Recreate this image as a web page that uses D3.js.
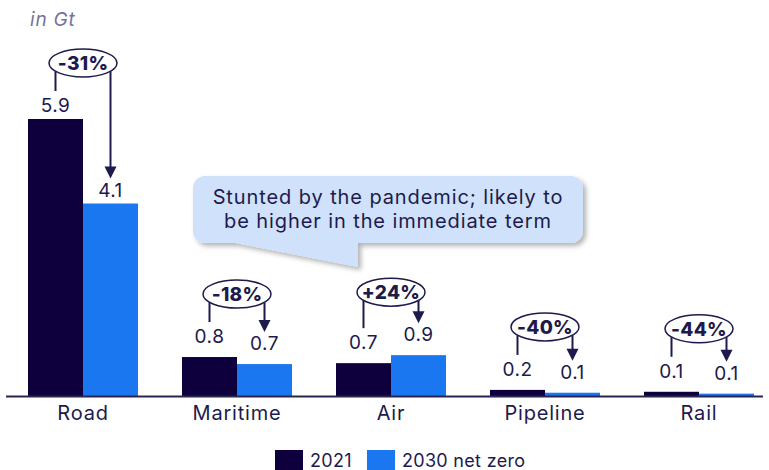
<!DOCTYPE html>
<html>
<head>
<meta charset="utf-8">
<script src="https://cdn.jsdelivr.net/npm/d3@7"></script>
<style>
    body { margin: 0; background: #ffffff; }
    svg { display: block; font-family: 'Inter', 'DejaVu Sans', sans-serif; }
</style>
</head>
<body>
<div id="chart"></div>
<script>
// Chart data
const categories = ['Road', 'Maritime', 'Air', 'Pipeline', 'Rail'];
const seriesNames = ['2021', '2030 net zero'];
const values2021 = [5.9, 0.83, 0.70, 0.13, 0.09];
const values2030 = [4.1, 0.68, 0.87, 0.07, 0.05];
const labels2021 = ['5.9', '0.8', '0.7', '0.2', '0.1'];
const labels2030 = ['4.1', '0.7', '0.9', '0.1', '0.1'];
const changeLabels = ['-31%', '-18%', '+24%', '-40%', '-44%'];
const calloutLines = ['Stunted by the pandemic; likely to', 'be higher in the immediate term'];

const colors = { '2021': '#0e003c', '2030 net zero': '#1a77f0' };
const textColor = '#1d1a4c';
const width = 769;
const height = 470;

const rows = categories.map((name, i) => ({
    name,
    values: [
        { key: seriesNames[0], value: values2021[i], label: labels2021[i] },
        { key: seriesNames[1], value: values2030[i], label: labels2030[i] }
    ],
    change: changeLabels[i]
}));

const svg = d3.select('#chart').append('svg')
    .attr('width', width)
    .attr('height', height);

// Drop shadow for the callout
const defs = svg.append('defs');
const filter = defs.append('filter')
    .attr('id', 'shadow')
    .attr('x', '-10%').attr('y', '-20%')
    .attr('width', '130%').attr('height', '160%');
filter.append('feDropShadow')
    .attr('dx', 3).attr('dy', 3)
    .attr('stdDeviation', 2.5)
    .attr('flood-color', '#000')
    .attr('flood-opacity', 0.3);

// Scales
const x0 = d3.scaleBand()
    .domain(categories)
    .range([6, 776])
    .paddingInner(2 / 7)
    .paddingOuter(1 / 7);

const x1 = d3.scaleBand()
    .domain(seriesNames)
    .range([0, x0.bandwidth()]);

const y = d3.scaleLinear()
    .domain([0, 5.9])
    .range([396, 119]);

// Unit label
svg.append('text')
    .attr('x', 30)
    .attr('y', 26)
    .attr('fill', '#76729a')
    .attr('font-size', '19px')
    .attr('font-style', 'italic')
    .attr('letter-spacing', '0.8px')
    .text('in Gt');

// Bars
const groups = svg.selectAll('.group')
    .data(rows)
    .enter()
    .append('g')
    .attr('class', 'group')
    .attr('transform', d => `translate(${x0(d.name)},0)`);

groups.selectAll('rect')
    .data(d => d.values)
    .enter()
    .append('rect')
    .attr('x', d => x1(d.key))
    .attr('y', d => y(d.value))
    .attr('width', x1.bandwidth())
    .attr('height', d => y(0) - y(d.value))
    .attr('fill', d => colors[d.key]);

// Value labels, sitting a bit higher above the small bars
const labelBase = d => y(d.value) - (d.value > 2 ? 7 : 14);

groups.selectAll('.value')
    .data(d => d.values)
    .enter()
    .append('text')
    .attr('class', 'value')
    .attr('x', d => x1(d.key) + x1.bandwidth() / 2)
    .attr('y', labelBase)
    .attr('text-anchor', 'middle')
    .attr('fill', textColor)
    .attr('font-size', '19px')
    .attr('letter-spacing', '0.5px')
    .text(d => d.label);

// Change annotations: oval with percentage, bracket and arrow
const rx = 34;
const ry = 14;
const capHeight = 14;

groups.each(function (d) {
    const g = d3.select(this);
    const cx = x0.bandwidth() / 2;
    const leftX = x1(seriesNames[0]) + x1.bandwidth() / 2;
    const rightX = x1(seriesNames[1]) + x1.bandwidth() / 2;
    const leftTop = labelBase(d.values[0]) - capHeight;
    const rightTop = labelBase(d.values[1]) - capHeight;
    const cy = Math.min(labelBase(d.values[0]), labelBase(d.values[1])) - 49;
    const edge = dx => cy + ry * Math.sqrt(1 - (dx / rx) * (dx / rx));

    g.append('line')
        .attr('x1', leftX).attr('x2', leftX)
        .attr('y1', edge(leftX - cx))
        .attr('y2', leftTop - 7)
        .attr('stroke', textColor)
        .attr('stroke-width', 2);

    const tipY = rightTop - 4;
    g.append('line')
        .attr('x1', rightX).attr('x2', rightX)
        .attr('y1', edge(rightX - cx))
        .attr('y2', tipY - 10)
        .attr('stroke', textColor)
        .attr('stroke-width', 2);

    g.append('path')
        .attr('d', `M${rightX - 6},${tipY - 12}L${rightX + 6},${tipY - 12}L${rightX},${tipY}Z`)
        .attr('fill', textColor);

    g.append('ellipse')
        .attr('cx', cx)
        .attr('cy', cy)
        .attr('rx', rx)
        .attr('ry', ry)
        .attr('fill', '#ffffff')
        .attr('stroke', textColor)
        .attr('stroke-width', 1.5);

    g.append('text')
        .attr('x', cx)
        .attr('y', cy)
        .attr('dy', '0.36em')
        .attr('text-anchor', 'middle')
        .attr('fill', textColor)
        .attr('font-size', '19px')
        .attr('font-weight', '800')
        .attr('letter-spacing', '0.3px')
        .text(d.change);
});

// Baseline and category labels
svg.append('line')
    .attr('x1', 6)
    .attr('x2', 763)
    .attr('y1', y(0) + 0.5)
    .attr('y2', y(0) + 0.5)
    .attr('stroke', '#2a2452')
    .attr('stroke-width', 2);

const xAxis = d3.axisBottom(x0).tickSize(0).tickPadding(10);
svg.append('g')
    .attr('class', 'x-axis')
    .attr('transform', `translate(0,${y(0)})`)
    .call(xAxis)
    .call(g => g.select('.domain').remove())
    .call(g => g.selectAll('text')
        .attr('fill', textColor)
        .attr('font-size', '20px')
        .attr('letter-spacing', '0.8px')
        .attr('font-family', 'Inter, DejaVu Sans, sans-serif'));

// Callout pointing at the Air group
const tipX = x0('Air') + 22;
const box = { left: 193, right: 583, top: 176, bottom: 243, r: 12 };
const callout = d3.path();
callout.moveTo(box.left + box.r, box.top);
callout.lineTo(box.right - box.r, box.top);
callout.arcTo(box.right, box.top, box.right, box.top + box.r, box.r);
callout.lineTo(box.right, box.bottom - box.r);
callout.arcTo(box.right, box.bottom, box.right - box.r, box.bottom, box.r);
callout.lineTo(tipX, box.bottom);
callout.lineTo(tipX, 267);
callout.lineTo(236, box.bottom);
callout.lineTo(box.left + box.r, box.bottom);
callout.arcTo(box.left, box.bottom, box.left, box.bottom - box.r, box.r);
callout.lineTo(box.left, box.top + box.r);
callout.arcTo(box.left, box.top, box.left + box.r, box.top, box.r);
callout.closePath();

svg.append('path')
    .attr('d', callout.toString())
    .attr('fill', '#d0e1fb')
    .attr('filter', 'url(#shadow)');

svg.append('text')
    .attr('x', (box.left + box.right) / 2)
    .attr('y', 204)
    .attr('text-anchor', 'middle')
    .attr('fill', textColor)
    .attr('font-size', '20px')
    .attr('letter-spacing', '0.9px')
    .selectAll('tspan')
    .data(calloutLines)
    .enter()
    .append('tspan')
    .attr('x', (box.left + box.right) / 2)
    .attr('dy', (d, i) => i === 0 ? 0 : 24)
    .text(d => d);

// Legend
const legend = svg.append('g')
    .attr('class', 'legend')
    .attr('transform', 'translate(275,450)');

const legendX = [0, 92];
seriesNames.forEach((name, i) => {
    legend.append('rect')
        .attr('x', legendX[i])
        .attr('y', 0)
        .attr('width', 28)
        .attr('height', 20)
        .attr('fill', colors[name]);
    legend.append('text')
        .attr('x', legendX[i] + 35)
        .attr('y', 17)
        .attr('fill', textColor)
        .attr('font-size', '18px')
        .attr('letter-spacing', '0.3px')
        .text(name);
});
</script>
</body>
</html>
